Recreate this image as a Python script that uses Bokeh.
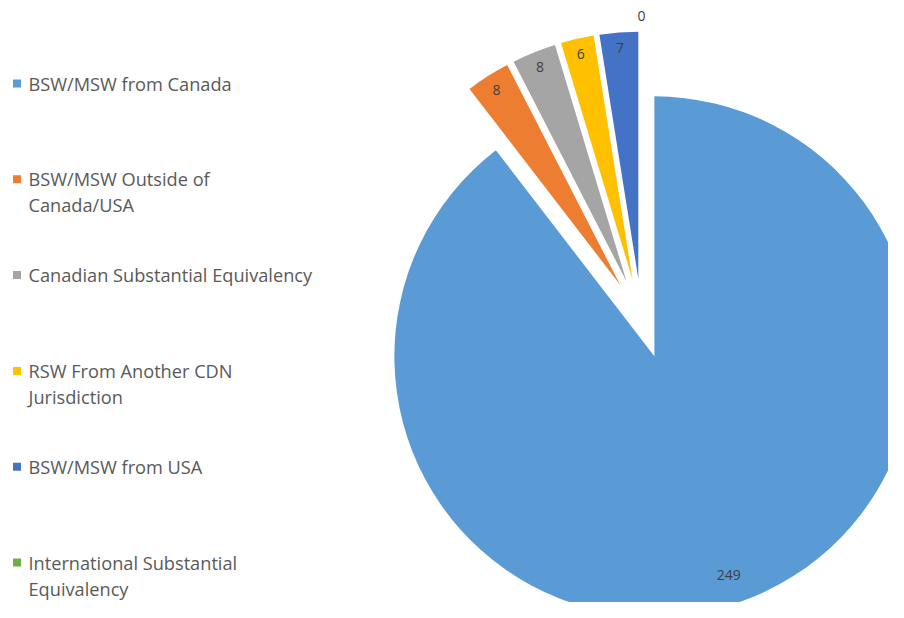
import numpy as np
from bokeh.plotting import figure
from bokeh.models import Range1d
from bokeh.core.properties import value
from bokeh.embed import file_html
from bokeh.resources import INLINE

# ---- data ----
categories = [
    "BSW/MSW from Canada",
    "BSW/MSW Outside of\nCanada/USA",
    "Canadian Substantial Equivalency",
    "RSW From Another CDN\nJurisdiction",
    "BSW/MSW from USA",
    "International Substantial\nEquivalency",
]
counts = [249, 8, 8, 6, 7, 0]
colors = ["#5B9BD5", "#ED7D31", "#A5A5A5", "#FFC000", "#4472C4", "#70AD47"]

# ---- layout constants (reference pixel space) ----
W, H = 888, 602
CX, CY = 641.0, -318.0      # pie centre
EXPLODE = 40.0
R_BIG, R_SMALL = 260.0, 247.0
LABEL_R, LABEL_R_OUT = 271.0, 303.0

p = figure(width=W, height=H, output_backend="svg", toolbar_location=None,
           x_range=Range1d(0, W), y_range=Range1d(-H, 0),
           min_border=0, outline_line_color=None)
p.axis.visible = False
p.grid.visible = False
p.background_fill_color = "white"
p.border_fill_color = "white"

vals = np.array(counts, dtype=float)
cum = np.concatenate([[0], np.cumsum(vals)])
theta0 = cum[:-1] / vals.sum() * 360.0
theta1 = cum[1:] / vals.sum() * 360.0
bis = np.radians((theta0 + theta1) / 2.0)
dx, dy = np.sin(bis), np.cos(bis)

wx, wy, wr, ws, we, wc = [], [], [], [], [], []
lx, ly, lt = [], [], []
for i, v in enumerate(counts):
    ax = CX + EXPLODE * dx[i]
    ay = CY + EXPLODE * dy[i]
    if v > 0:
        wx.append(ax); wy.append(ay)
        wr.append(R_BIG if v == max(counts) else R_SMALL)
        ws.append(np.radians(90 - theta1[i]))
        we.append(np.radians(90 - theta0[i]))
        wc.append(colors[i])
        r = LABEL_R
    else:
        r = LABEL_R_OUT
    lx.append(CX + r * dx[i]); ly.append(CY + r * dy[i]); lt.append(str(v))

p.wedge(x=wx, y=wy, radius=wr, start_angle=ws, end_angle=we,
        fill_color=wc, line_color=None)
p.text(x=lx, y=ly, text=lt, text_align="center", text_baseline="middle",
       text_font=value("Open Sans"), text_font_size="14px", text_color="#404040")

# ---- legend ----
LEG_Y0, LEG_STEP, LINE_H = 83.0, 95.8, 26.0
mx, my, mc = [], [], []
tx, ty, tt = [], [], []
for i, name in enumerate(categories):
    y0 = LEG_Y0 + i * LEG_STEP
    mx.append(16.5); my.append(-y0); mc.append(colors[i])
    for j, line in enumerate(name.split("\n")):
        tx.append(28); ty.append(-(y0 + j * LINE_H)); tt.append(line)

p.scatter(x=mx, y=my, marker="square", size=8, fill_color=mc, line_color=None)
p.text(x=tx, y=ty, text=tt, text_align="left", text_baseline="middle",
       text_font=value("Open Sans"), text_font_size="18.2px", text_color="#595959")

open("out.html", "w").write(file_html(p, INLINE))
